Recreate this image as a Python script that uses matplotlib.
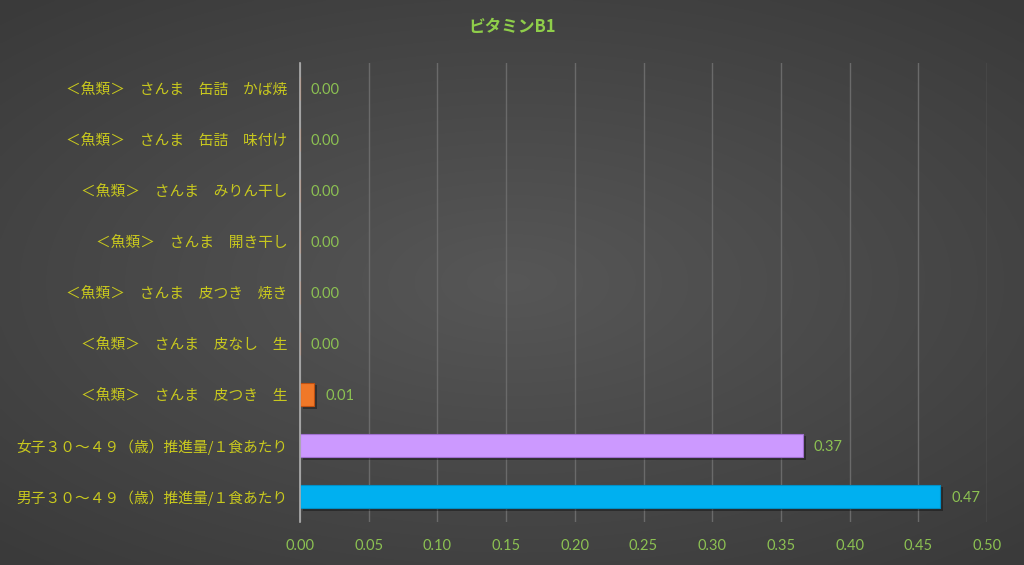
import numpy as np
import matplotlib
matplotlib.use("Agg")
import matplotlib.pyplot as plt
import matplotlib.patheffects as pe

plt.rcParams['font.family'] = ['Noto Sans CJK JP', 'DejaVu Sans']

categories = [
    "男子３０～４９（歳）推進量/１食あたり",
    "女子３０～４９（歳）推進量/１食あたり",
    "＜魚類＞　さんま　皮つき　生",
    "＜魚類＞　さんま　皮なし　生",
    "＜魚類＞　さんま　皮つき　焼き",
    "＜魚類＞　さんま　開き干し",
    "＜魚類＞　さんま　みりん干し",
    "＜魚類＞　さんま　缶詰　味付け",
    "＜魚類＞　さんま　缶詰　かば焼",
]
values = [0.466, 0.366, 0.0102, 0.0, 0.0, 0.0, 0.0, 0.0, 0.0]
colors = ["#00b0f0", "#cc99ff", "#f07828"] + ["#f07828"] * 6
edges = ["#0090c8", "#a070d0", "#c05010"] + ["#c05010"] * 6
xticks = [0.0, 0.05, 0.10, 0.15, 0.20, 0.25, 0.30, 0.35, 0.40, 0.45, 0.50]

fig = plt.figure(figsize=(10.24, 5.65), dpi=100)

# radial gradient background
bg = fig.add_axes([0, 0, 1, 1])
yy, xx = np.mgrid[-1:1:300j, -1:1:500j]
r = np.sqrt((xx * 0.9) ** 2 + (yy * 1.0) ** 2)
grad = 0.34 - 0.11 * np.clip(r / 1.3, 0, 1)
bg.imshow(np.dstack([grad, grad, grad]), aspect="auto", extent=[0, 1, 0, 1],
          interpolation="bilinear")
bg.axis("off")

ax = fig.add_axes([300 / 1024, 1 - 522 / 565, 687 / 1024, 459 / 565])
ax.patch.set_alpha(0)

y = np.arange(len(categories))
bars = ax.barh(y, values, height=0.47, color=colors, edgecolor=edges, linewidth=0.8, zorder=3)
for b in bars:
    b.set_path_effects([pe.SimplePatchShadow(offset=(2, -2), shadow_rgbFace="black", alpha=0.35), pe.Normal()])

for yi, v in zip(y, values):
    ax.text(v + 0.008, yi - 0.03, f"{v:.2f}", va="center", ha="left", color="#8cc152",
            fontsize=10.5, family=["Lato", "DejaVu Sans"])

ax.set_xlim(0, 0.5)
ax.set_ylim(-0.5, len(categories) - 0.5)
ax.set_xticks(xticks)
ax.set_xticklabels([f"{t:.2f}" for t in xticks], color="#8cc152", fontsize=10.5,
                   family=["Lato", "DejaVu Sans"])
ax.set_yticks(y)
ax.set_yticklabels(categories, color="#c8c81e", fontsize=10.6)
ax.tick_params(axis="x", length=0, pad=12)
ax.tick_params(axis="y", length=0, pad=9)
ax.grid(axis="x", color="#6a6a6a", linewidth=1, zorder=0)
for s in ["top", "right", "bottom"]:
    ax.spines[s].set_visible(False)
ax.spines["left"].set_color("#b0b0b0")
ax.spines["left"].set_linewidth(1.2)
ax.spines["left"].set_zorder(4)

fig.text(0.5, 1 - 27 / 565, "ビタミンB1", ha="center", va="center",
         color="#8fce4a", fontsize=12, fontweight="bold")

fig.savefig("out.png", dpi=100)
